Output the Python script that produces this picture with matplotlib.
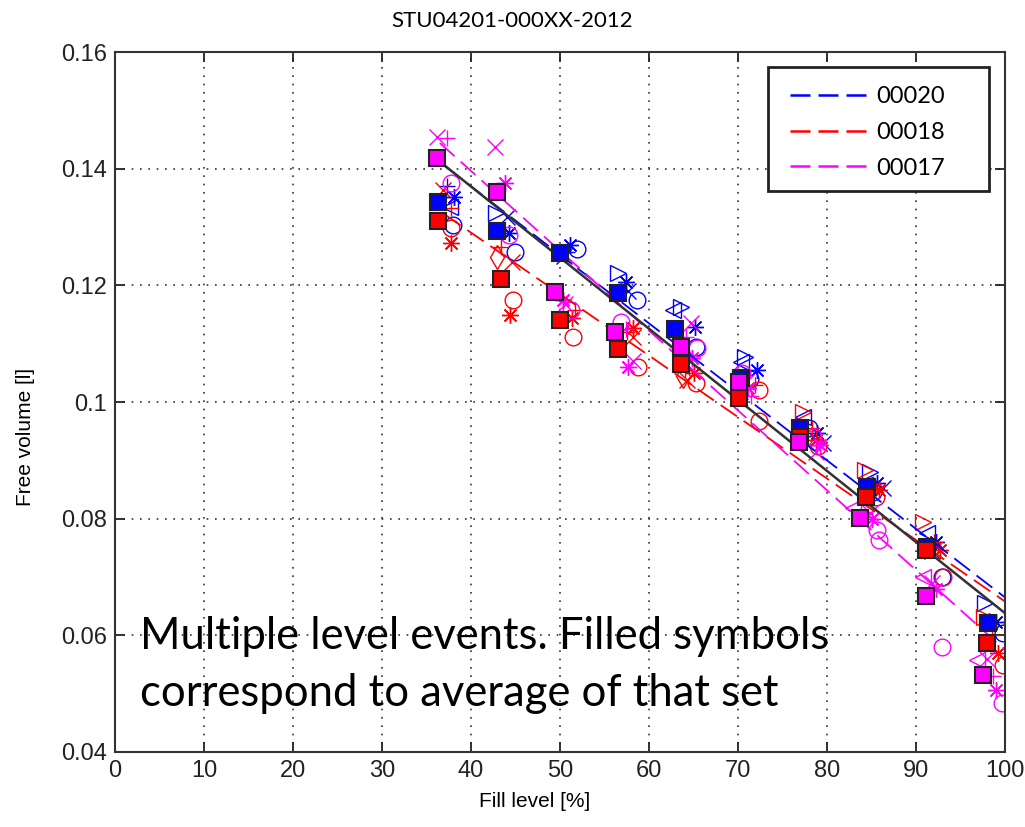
import numpy as np
import matplotlib
matplotlib.use("Agg")
import matplotlib.pyplot as plt
from matplotlib.lines import Line2D
from matplotlib.patches import Rectangle

# data (fill level [%], free volume [l])
series_names = ["00020", "00018", "00017"]
series_colors = ["#0000ff", "#ff0000", "#ff00ff"]

# averages of each set (filled squares)
blue_avg_x = [36.3, 42.9, 50.0, 56.5, 62.9, 70.3, 77.0, 84.5, 91.2, 98.1]
blue_avg_y = [0.1343, 0.1293, 0.1255, 0.1187, 0.1125, 0.1042, 0.0955, 0.0854, 0.0752, 0.0621]
red_avg_x = [36.3, 43.4, 50.0, 56.5, 63.6, 70.1, 77.0, 84.4, 91.1, 98.0]
red_avg_y = [0.1310, 0.1211, 0.1141, 0.1091, 0.1065, 0.1007, 0.0940, 0.0837, 0.0746, 0.0587]
mag_avg_x = [36.2, 42.9, 49.4, 56.2, 63.6, 70.1, 76.9, 83.7, 91.1, 97.5]
mag_avg_y = [0.1418, 0.1360, 0.1189, 0.1120, 0.1094, 0.1034, 0.0931, 0.0801, 0.0667, 0.0532]

# single level events (hollow symbols)
blue_pts_x = [37.3, 38.1, 38.0, 37.6, 42.8, 44.0, 44.3, 44.9, 51.1, 51.9, 50.4, 50.8,
              56.5, 57.4, 58.6, 57.6, 62.7, 63.6, 65.2, 65.3, 70.8, 70.3, 72.1, 71.3,
              77.3, 78.9, 78.0, 79.5, 84.8, 85.6, 85.2, 86.3, 91.2, 92.3, 92.9, 91.8,
              97.8, 98.2, 99.0, 99.8]
blue_pts_y = [0.1370, 0.1351, 0.1303, 0.1335, 0.1324, 0.1318, 0.1290, 0.1257, 0.1269, 0.1262, 0.1250, 0.1258,
              0.1221, 0.1206, 0.1175, 0.1190, 0.1158, 0.1163, 0.1129, 0.1095, 0.1077, 0.1068, 0.1055, 0.1040,
              0.0975, 0.0947, 0.0955, 0.0930, 0.0880, 0.0861, 0.0845, 0.0852, 0.0775, 0.0760, 0.0700, 0.0745,
              0.0655, 0.0625, 0.0622, 0.0604]
blue_pts_m = ["+", "*", "o", "<", ">", "x", "*", "o", "*", "o", "x", "+",
              ">", "*", "o", "x", "<", ">", "*", "o", ">", "<", "*", "o",
              "<", "*", "o", "x", ">", "*", "o", "x", "<", "*", "o", "x",
              ">", "^", "*", "o"]

red_pts_x = [36.8, 37.8, 37.8, 37.8, 42.9, 44.6, 44.7, 44.4, 43.4, 51.7, 51.3, 51.5,
             58.2, 58.2, 58.8, 57.5, 65.0, 64.3, 65.3, 64.0, 63.8, 71.9, 72.4, 72.4,
             77.3, 78.8, 78.3, 79.0, 84.3, 85.8, 85.2, 85.5, 90.8, 92.7, 93.0, 92.0,
             97.6, 99.2, 99.8, 98.5]
red_pts_y = [0.1363, 0.1333, 0.1298, 0.1273, 0.1249, 0.1240, 0.1175, 0.1149, 0.1265, 0.1158, 0.1144, 0.1111,
             0.1127, 0.1111, 0.1060, 0.1120, 0.1050, 0.1038, 0.1033, 0.1055, 0.1045, 0.1030, 0.1021, 0.0968,
             0.0983, 0.0935, 0.0955, 0.0925, 0.0883, 0.0850, 0.0860, 0.0838, 0.0794, 0.0746, 0.0700, 0.0760,
             0.0631, 0.0570, 0.0549, 0.0600]
red_pts_m = ["x", "+", "o", "*", "d", "x", "o", "*", "+", "+", "*", "o",
             "*", "x", "o", "+", "*", "x", "o", "+", "d", "+", "o", "o",
             ">", "*", "+", "o", ">", "*", "+", "o", ">", "*", "o", "+",
             ">", "*", "o", "+"]

mag_pts_x = [36.2, 37.3, 37.8, 42.7, 43.8, 44.3, 50.3, 51.2, 50.6,
             56.8, 57.6, 57.4, 58.2, 64.7, 65.4, 64.8, 64.2, 70.5, 71.1, 70.9, 71.5,
             78.4, 79.2, 78.8, 77.8, 82.9, 84.8, 85.6, 85.8, 85.0,
             90.8, 91.8, 92.2, 92.9, 96.9, 98.0, 99.0, 99.7, 98.6]
mag_pts_y = [0.1454, 0.1453, 0.1375, 0.1437, 0.1375, 0.1286, 0.1175, 0.1158, 0.1168,
             0.1137, 0.1060, 0.1125, 0.1070, 0.1135, 0.1093, 0.1075, 0.1112, 0.1050, 0.1024, 0.1035, 0.1010,
             0.0940, 0.0926, 0.0915, 0.0950, 0.0818, 0.0810, 0.0781, 0.0763, 0.0800,
             0.0700, 0.0690, 0.0680, 0.0580, 0.0558, 0.0560, 0.0506, 0.0484, 0.0530]
mag_pts_m = ["x", "+", "o", "x", "*", "o", "*", "o", "x",
             "o", "*", "+", "x", "x", "o", "*", "+", "o", "*", "x", "+",
             "o", "*", "x", "+", "<", "x", "o", "o", "*",
             "<", "x", "*", "o", "<", "x", "*", "o", "+"]

# linear fits: end points (x0, y0, x1, y1)
blue_fit = [37.0, 0.1405, 100.0, 0.0665]
red_fit = [37.0, 0.1322, 100.0, 0.0658]
mag_fit = [36.5, 0.1444, 100.0, 0.0575]
all_fit = [37.0, 0.1406, 100.0, 0.0638]

avg_x = [blue_avg_x, red_avg_x, mag_avg_x]
avg_y = [blue_avg_y, red_avg_y, mag_avg_y]
pts_x = [blue_pts_x, red_pts_x, mag_pts_x]
pts_y = [blue_pts_y, red_pts_y, mag_pts_y]
pts_m = [blue_pts_m, red_pts_m, mag_pts_m]
fits = [blue_fit, red_fit, mag_fit]

plt.rcParams['font.family'] = ['Liberation Sans', 'DejaVu Sans']

fig = plt.figure(figsize=(10.25, 8.27), dpi=100)
ax = fig.add_axes([0.1122, 0.0907, 0.8683, 0.8464])

asterisk = (8, 2, 0)

for i in range(3):
    c = series_colors[i]
    xs = np.array(pts_x[i])
    ys = np.array(pts_y[i])
    ms = np.array(pts_m[i])
    for m in np.unique(ms):
        sel = ms == m
        mk = asterisk if m == "*" else m
        ax.plot(xs[sel], ys[sel], linestyle='none', marker=mk, markersize=12,
                markerfacecolor='none', markeredgecolor=c, markeredgewidth=1.0, zorder=2)
    f = fits[i]
    ax.plot([f[0], f[2]], [f[1], f[3]], color=c, lw=1.3, dashes=(11, 4.5), zorder=2.5)

ax.plot([all_fit[0], all_fit[2]], [all_fit[1], all_fit[3]], color='#333333', lw=1.8, zorder=3)

for i in range(3):
    ax.plot(avg_x[i], avg_y[i], linestyle='none', marker='s', markersize=11,
            markerfacecolor=series_colors[i], markeredgecolor='#222222',
            markeredgewidth=1.5, zorder=4)

ax.set_xlim(0, 100)
ax.set_ylim(0.04, 0.16)
ax.set_xticks(np.arange(0, 101, 10))
ax.set_yticks([0.04, 0.06, 0.08, 0.1, 0.12, 0.14, 0.16])
ax.set_yticklabels(['0.04', '0.06', '0.08', '0.1', '0.12', '0.14', '0.16'])
ax.grid(True, linestyle=(0, (1, 4)), color='#333333', linewidth=1.2)
ax.tick_params(direction='in', top=True, right=True, length=7, width=1.3,
               labelsize=17, colors='#222222', pad=6)
for s in ax.spines.values():
    s.set_linewidth(1.5)
    s.set_color('#333333')

ax.set_xlabel('Fill level [%]', fontsize=15)
ax.set_ylabel('Free volume [l]', fontsize=15)
ax.xaxis.set_label_coords(0.471, -0.057)
ax.yaxis.set_label_coords(-0.09, 0.45)

fig.text(0.5, 0.975, 'STU04201-000XX-2012', ha='center', va='center',
         fontsize=16, family=['Lato', 'DejaVu Sans'])

# legend: box drawn separately to match the wide right margin
ax.add_patch(Rectangle((0.734, 0.801), 0.248, 0.178, transform=ax.transAxes,
                       facecolor='white', edgecolor='#222222', lw=2, zorder=6))
handles = [Line2D([0], [0], color=c, lw=1.8, dashes=(8, 3.2)) for c in series_colors]
leg = ax.legend(handles, series_names, loc='upper left', bbox_to_anchor=(0.758, 0.951),
                frameon=False, handlelength=3.3, handletextpad=0.35, borderpad=0,
                labelspacing=0.62, borderaxespad=0,
                prop={'family': 'Lato', 'size': 17})
leg.set_zorder(7)

fig.text(0.137, 0.196, 'Multiple level events. Filled symbols\ncorrespond to average of that set',
         ha='left', va='center', fontsize=31.4, family=['Lato', 'DejaVu Sans'],
         linespacing=1.5, zorder=5)

fig.savefig('out.png', dpi=100)
